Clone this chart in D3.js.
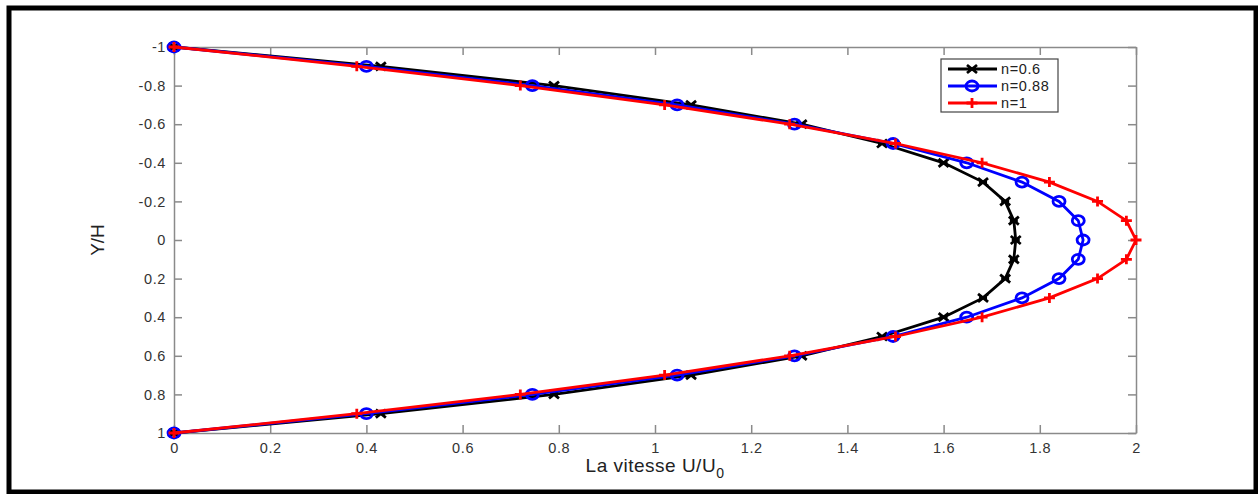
<!DOCTYPE html>
<html>
<head>
<meta charset="utf-8">
<script src="https://cdn.jsdelivr.net/npm/d3@7"></script>
<style>
  body { margin: 0; background: #fff; }
  text { font-family: "Liberation Sans", Arial, sans-serif; }
</style>
</head>
<body>
<div id="chart"></div>
<script>
// Y/H positions shared by all three profiles
let yPos = [-1, -0.9, -0.8, -0.7, -0.6, -0.5, -0.4, -0.3, -0.2, -0.1, 0, 0.1, 0.2, 0.3, 0.4, 0.5, 0.6, 0.7, 0.8, 0.9, 1];

// U/U0
let u06 = [0, 0.43, 0.79, 1.075, 1.305, 1.472, 1.6, 1.682, 1.728, 1.746, 1.75, 1.746, 1.728, 1.682, 1.6, 1.472, 1.305, 1.075, 0.79, 0.43, 0];
let u088 = [0, 0.40, 0.745, 1.046, 1.29, 1.495, 1.648, 1.763, 1.84, 1.88, 1.89, 1.88, 1.84, 1.763, 1.648, 1.495, 1.29, 1.046, 0.745, 0.40, 0];
let u1 = [0, 0.38, 0.72, 1.02, 1.28, 1.5, 1.68, 1.82, 1.92, 1.98, 2.0, 1.98, 1.92, 1.82, 1.68, 1.5, 1.28, 1.02, 0.72, 0.38, 0];

let seriesNames = ["n=0.6", "n=0.88", "n=1"];
let seriesColors = ["#000000", "#0000ff", "#ff0000"];
let seriesMarkers = ["star", "circle", "plus"];

let xTicks = [0, 0.2, 0.4, 0.6, 0.8, 1, 1.2, 1.4, 1.6, 1.8, 2];
let yTicks = [-1, -0.8, -0.6, -0.4, -0.2, 0, 0.2, 0.4, 0.6, 0.8, 1];

var W = 1258, H = 494;
var margin = { top: 47, right: 122, bottom: 61, left: 174 },
    width = W - margin.left - margin.right,
    height = H - margin.top - margin.bottom;

var svg = d3.select("#chart")
    .append("svg")
    .attr("width", W)
    .attr("height", H);

// thick outer frame
svg.append("rect")
    .attr("x", 9).attr("y", 8)
    .attr("width", 1247).attr("height", 484)
    .attr("fill", "none")
    .attr("stroke", "#000")
    .attr("stroke-width", 5);

var g = svg.append("g")
    .attr("transform", "translate(" + margin.left + "," + margin.top + ")");

var x = d3.scaleLinear().domain([0, 2]).range([0, width]);
var y = d3.scaleLinear().domain([-1, 1]).range([0, height]);

var axisColor = "#8a8a8a";
var tickLen = 8;

// axes, ticks pointing inward
var bottomAxis = g.append("g")
    .attr("transform", "translate(0," + height + ")")
    .call(d3.axisBottom(x).tickValues(xTicks).tickSizeInner(-tickLen).tickSizeOuter(0).tickPadding(10).tickFormat(d3.format("")));
var topAxis = g.append("g")
    .call(d3.axisTop(x).tickValues(xTicks).tickSizeInner(-tickLen).tickSizeOuter(0).tickFormat(""));
var leftAxis = g.append("g")
    .call(d3.axisLeft(y).tickValues(yTicks).tickSizeInner(-tickLen).tickSizeOuter(0).tickPadding(8).tickFormat(d3.format("")));
var rightAxis = g.append("g")
    .attr("transform", "translate(" + width + ",0)")
    .call(d3.axisRight(y).tickValues(yTicks).tickSizeInner(-tickLen).tickSizeOuter(0).tickFormat(""));

[bottomAxis, topAxis, leftAxis, rightAxis].forEach(function (a) {
    a.selectAll("path").attr("stroke", axisColor).attr("stroke-width", 1.5);
    a.selectAll("line").attr("stroke", axisColor).attr("stroke-width", 1.5);
    a.selectAll("text").attr("fill", "#333").style("font-size", "14.5px").style("letter-spacing", "0.6px");
});
leftAxis.selectAll("text").text(function (d) { return d === -1 ? "-1" : (d < 0 ? "-" + Math.abs(d) : d); });

// axis labels
var xl = svg.append("text")
    .attr("x", margin.left + width / 2)
    .attr("y", 472)
    .attr("text-anchor", "middle")
    .attr("fill", "#222")
    .style("font-size", "19px")
    .style("letter-spacing", "0.5px");
xl.append("tspan").text("La vitesse U/U");
xl.append("tspan").attr("dy", 6).style("font-size", "14px").text("0");

svg.append("text")
    .attr("transform", "translate(104," + (margin.top + height / 2) + ") rotate(-90)")
    .attr("text-anchor", "middle")
    .attr("fill", "#222")
    .style("font-size", "19px")
    .text("Y/H");

// marker paths
function markerPath(type) {
    if (type === "circle") return null;
    if (type === "plus") return "M-5.5,0H5.5M0,-5V5";
    // asterisk, a bit wide like the stretched original
    return "M-5,-4L5,4M-5,4L5,-4M-4,0H4";
}

function drawMarker(sel, type, color) {
    if (type === "circle") {
        sel.append("ellipse")
            .attr("rx", 6).attr("ry", 5)
            .attr("fill", "none")
            .attr("stroke", color)
            .attr("stroke-width", 2.8);
    } else {
        sel.append("path")
            .attr("d", markerPath(type))
            .attr("fill", "none")
            .attr("stroke", color)
            .attr("stroke-width", 2.8);
    }
}

var allSeries = [u06, u088, u1];
var line = d3.line()
    .x(function (d) { return x(d[0]); })
    .y(function (d) { return y(d[1]); });

allSeries.forEach(function (vals, k) {
    var pts = vals.map(function (v, j) { return [v, yPos[j]]; });
    g.append("path")
        .datum(pts)
        .attr("d", line)
        .attr("fill", "none")
        .attr("stroke", seriesColors[k])
        .attr("stroke-width", 2.8);
    g.selectAll(".m" + k)
        .data(pts)
        .enter()
        .append("g")
        .attr("class", "m" + k)
        .attr("transform", function (d) { return "translate(" + x(d[0]) + "," + y(d[1]) + ")"; })
        .each(function () { drawMarker(d3.select(this), seriesMarkers[k], seriesColors[k]); });
});

// legend
var lg = svg.append("g").attr("transform", "translate(941,59)");
lg.append("rect")
    .attr("width", 117).attr("height", 53)
    .attr("fill", "#fff")
    .attr("stroke", "#444")
    .attr("stroke-width", 1.2);
seriesNames.forEach(function (name, k) {
    var ry = 10 + k * 17;
    lg.append("line")
        .attr("x1", 7).attr("x2", 56)
        .attr("y1", ry).attr("y2", ry)
        .attr("stroke", seriesColors[k])
        .attr("stroke-width", 2.8);
    var m = lg.append("g").attr("transform", "translate(31," + ry + ")");
    drawMarker(m, seriesMarkers[k], seriesColors[k]);
    lg.append("text")
        .attr("x", 60).attr("y", ry + 5)
        .attr("fill", "#222")
        .style("font-size", "14.5px")
        .style("letter-spacing", "0.6px")
        .text(name);
});
</script>
</body>
</html>
